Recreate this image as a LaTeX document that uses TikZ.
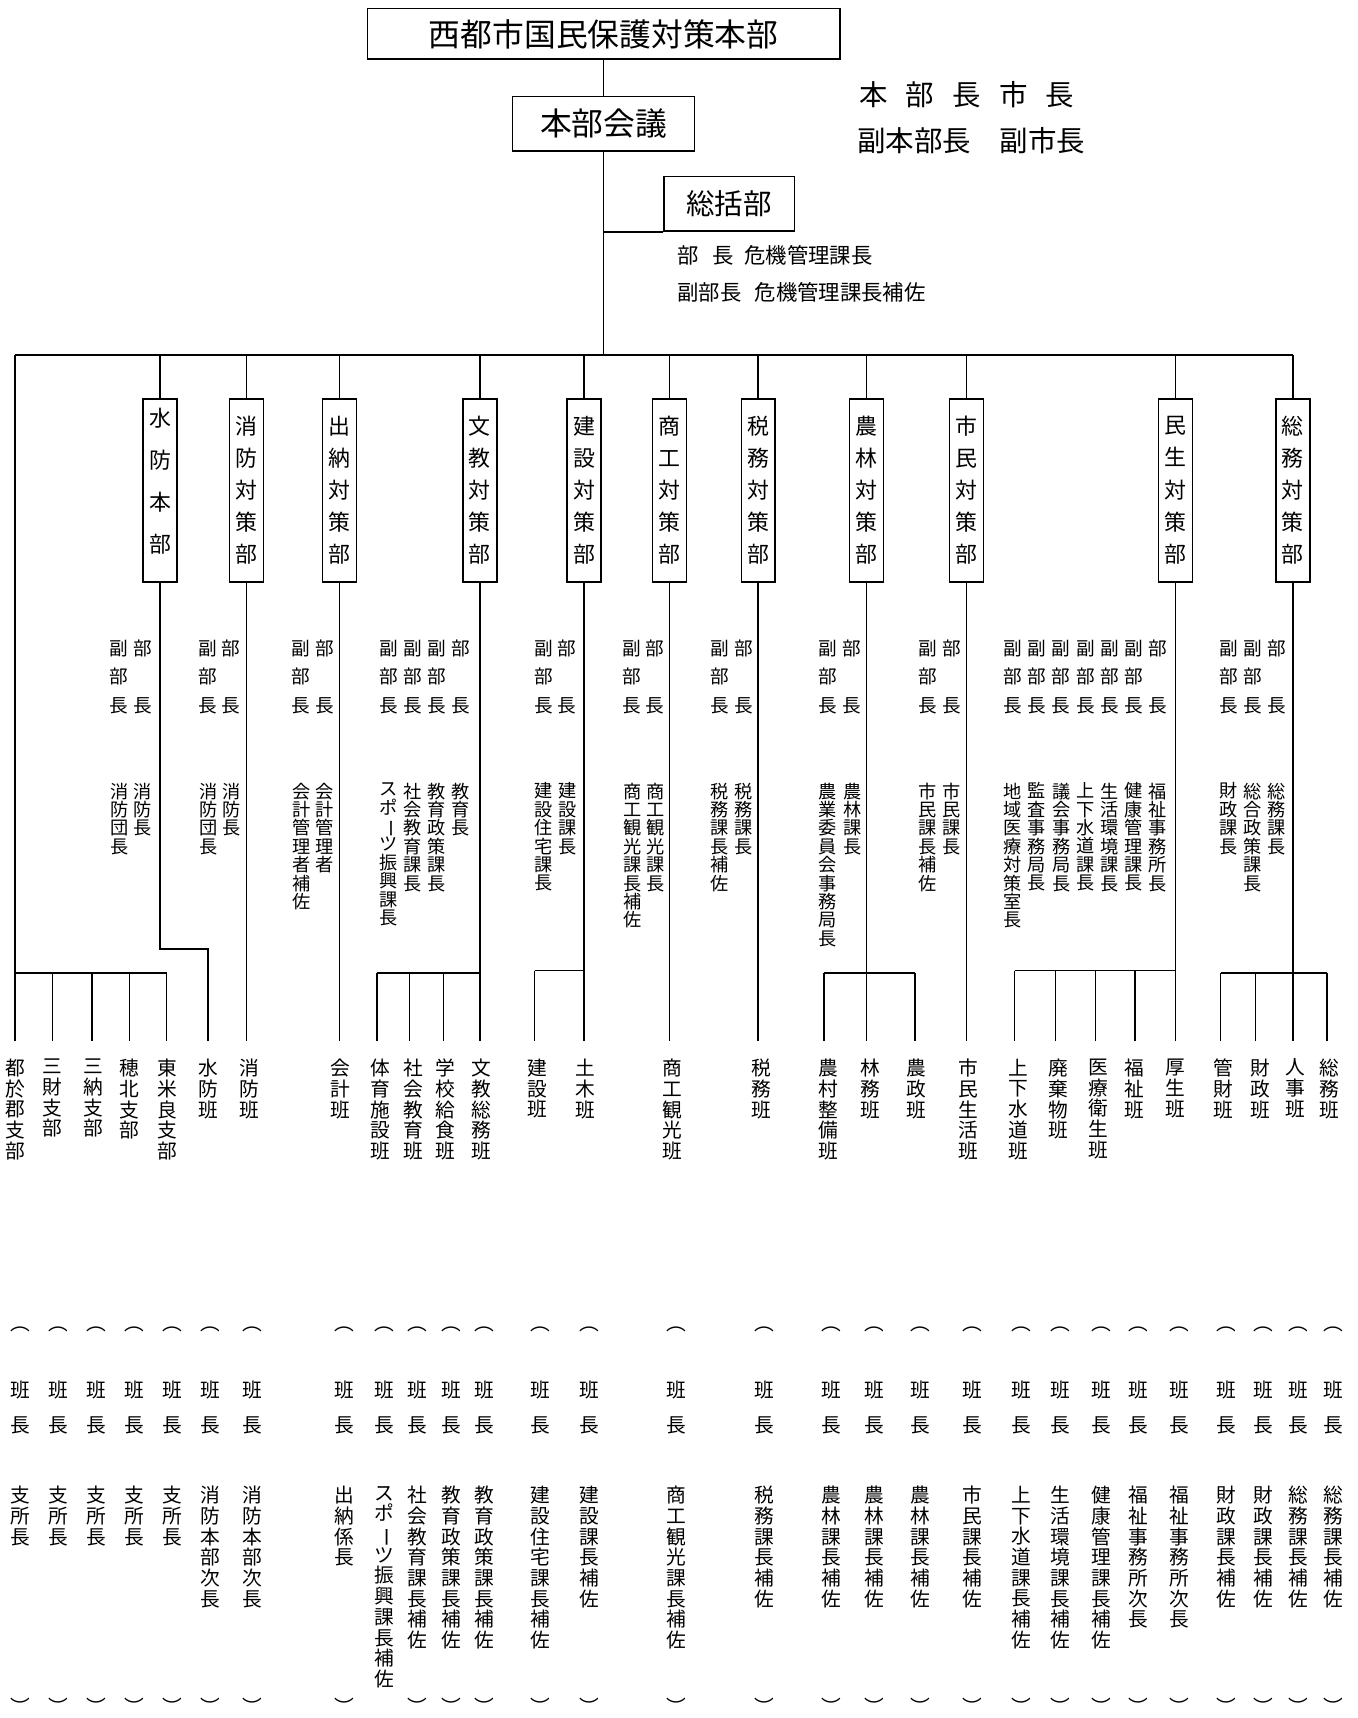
\documentclass[tikz,border=0pt]{standalone}
\usepackage{fontspec}
\usepackage{graphicx}
\setmainfont{Noto Sans CJK JP}
\makeatletter
\def\tate#1{\tate@a#1\@nil}
\def\tate@a#1#2\@nil{#1\ifx\relax#2\relax\expandafter\@gobble\else\expandafter\@firstofone\fi{\\\tate@a#2\@nil}}
\def\tatex#1{\expandafter\tate\expandafter{#1}}
\makeatother
\newcommand{\bou}{\rotatebox[origin=c]{-90}{ー}}
\begin{document}
\begin{tikzpicture}[x=0.5pt,y=-0.5pt,
 ln/.style={line width=0.65pt},
 hb/.style={draw,line width=0.65pt,inner sep=0pt},
 dbox/.style={draw,line width=0.65pt,inner sep=0pt,minimum width=15.5pt,minimum height=83.5pt,align=center,font={\fontsize{10pt}{14.65pt}\selectfont\lineskiplimit=-100pt}},
 fb/.style={anchor=north,inner sep=0pt,align=center,font={\fontsize{8.5pt}{12.9pt}\selectfont\lineskiplimit=-100pt}},
 ls/.style={anchor=north,inner sep=0pt,align=center,font={\fontsize{8.3pt}{8.4pt}\selectfont\lineskiplimit=-100pt}},
 hn/.style={anchor=north,inner sep=0pt,align=center,font={\fontsize{9pt}{9.5pt}\selectfont\lineskiplimit=-100pt}},
 nm/.style={anchor=north,inner sep=0pt,align=center,font={\fontsize{9pt}{9.45pt}\selectfont\lineskiplimit=-100pt}},
 hc/.style={anchor=north,inner sep=0pt,align=center,font={\fontsize{9pt}{16pt}\selectfont\lineskiplimit=-100pt}},
 kk/.style={inner sep=0pt,font={\fontsize{9pt}{9pt}\selectfont}}]
\useasboundingbox (0,0) rectangle (1239,1568);
% top
\node[hb,minimum width=215.5pt,minimum height=23pt,font=\fontsize{14.5pt}{14.5pt}\selectfont] (hq) at (551,31) {西都市国民保護対策本部};
\node[hb,minimum width=83pt,minimum height=25pt,font=\fontsize{14.5pt}{14.5pt}\selectfont] (kaigi) at (551,113) {本部会議};
\node[hb,minimum width=59.5pt,minimum height=25pt,font=\fontsize{13pt}{13pt}\selectfont] (sokatsu) at (665.5,186) {総括部};
\node[anchor=west,inner sep=0pt,font=\fontsize{13pt}{13pt}\selectfont] (chou1) at (784,86) {本\kern8.25pt 部\kern8.25pt 長\kern8.25pt 市\kern8.25pt 長};
\node[anchor=west,inner sep=0pt,font=\fontsize{13pt}{13pt}\selectfont] (chou2) at (782,128) {副本部長　副市長};
\node[anchor=west,inner sep=0pt,font=\fontsize{9.75pt}{9.75pt}\selectfont] (bu1) at (618,233) {部\kern6pt 長\kern5pt 危機管理課長};
\node[anchor=west,inner sep=0pt,font=\fontsize{9.75pt}{9.75pt}\selectfont] (bu2) at (618,267) {副部長\kern6pt 危機管理課長補佐};
\coordinate (busL) at (13.5,324);
\coordinate (busR) at (1180,324);
\draw[ln] (hq.south) -- (hq.south |- kaigi.north);
\draw[ln] (kaigi.south) -- (kaigi.south |- busL);
\draw[ln] (sokatsu.south west) -- (sokatsu.south west -| kaigi.south);
\draw[ln] (busL) -- (busR);
% departments
\node[dbox,font={\fontsize{10pt}{19.25pt}\selectfont\lineskiplimit=-100pt},text depth=9.2pt] (suibo) at (146,447.5) {\tate{水防本部}};
\draw[ln] (suibo.north) -- (suibo.north |- busL);
\foreach \n/\x/\tx in {shobo/225/消防対策部, suito/310/出納対策部, bunkyo/438/文教対策部, kensetsu/533/建設対策部, shoko/611/商工対策部, zeimu/692/税務対策部, norin/791/農林対策部, shimin/882/市民対策部, minsei/1073/民生対策部, somu/1180/総務対策部}{
  \node[dbox] (\n) at (\x,447.5) {\tatex{\tx}};
  \draw[ln] (\n.north) -- (\n.north |- busL);
}
% middle texts
\foreach \x/\tx [count=\cnt] in {130/消防長, 211/消防長, 296/会計管理者, 420.7/教育長, 517.7/建設課長, 598/商工観光課長, 679/税務課長, 777.8/農林課長, 868.5/市民課長, 1056.5/福祉事務所長, 1165.4/総務課長}{
  \node[fb] (bc\cnt) at (\x,584) {部\\\mbox{}\\長};
  \node[ls] (bl\cnt) at (\x,714) {\tatex{\tx}};
}
\foreach \x/\tx [count=\cnt] in {108.7/消防団長, 190/消防団長, 275/会計管理者補佐, 398.7/教育政策課長, 377/社会教育課長, 354.7/スポ\bou ツ振興課長, 496/建設住宅課長, 577/商工観光課長補佐, 657.2/税務課長補佐, 755.7/農業委員会事務局長, 846.4/市民課長補佐, 1034.9/健康管理課長, 1012.8/生活環境課長, 990.7/上下水道課長, 968.6/議会事務局長, 946.5/監査事務局長, 924.5/地域医療対策室長, 1143.3/総合政策課長, 1121.6/財政課長}{
  \node[fb] (fc\cnt) at (\x,584) {副\\部\\長};
  \node[ls] (fl\cnt) at (\x,714) {\tatex{\tx}};
}
% lower connectors
\coordinate (sL) at (13.5,950);
\draw[ln] (busL) -- (sL);
\draw[ln] (13.5,888) -- (152,888);
\foreach \x in {48,84,118,152}{\draw[ln] (\x,888) -- (\x,950);}
\draw[ln] (suibo.south) -- (146,866) -- (190,866) -- (190,950);
\draw[ln] (shobo.south) -- (225,950);
\draw[ln] (suito.south) -- (310,950);
\draw[ln] (bunkyo.south) -- (438,950);
\draw[ln] (344,888) -- (438,888);
\foreach \x in {344,374,405}{\draw[ln] (\x,888) -- (\x,950);}
\draw[ln] (kensetsu.south) -- (533,950);
\draw[ln] (488,886) -- (533,886) (488,886) -- (488,950);
\draw[ln] (shoko.south) -- (611,950);
\draw[ln] (zeimu.south) -- (692,950);
\draw[ln] (norin.south) -- (791,950);
\draw[ln] (752,888) -- (835,888);
\foreach \x in {752,835}{\draw[ln] (\x,888) -- (\x,950);}
\draw[ln] (shimin.south) -- (882,950);
\draw[ln] (minsei.south) -- (1073,950);
\draw[ln] (926,886) -- (1073,886);
\foreach \x in {926,963.5,1000,1036}{\draw[ln] (\x,886) -- (\x,950);}
\draw[ln] (somu.south) -- (1180,950);
\draw[ln] (1114,888) -- (1211,888);
\foreach \x in {1114,1146,1211}{\draw[ln] (\x,888) -- (\x,950);}
% han labels
\foreach \x/\tx [count=\cnt] in {14.3/都於郡支部, 48/三財支部, 85/三納支部, 118/穂北支部, 153/東米良支部, 190/水防班, 228/消防班, 310.6/会計班, 347/体育施設班, 377/社会教育班, 406.4/学校給食班, 439/文教総務班, 490/建設班, 534/土木班, 613.5/商工観光班, 695/税務班, 756/農村整備班, 794.4/林務班, 836.6/農政班, 884.2/市民生活班, 929.5/上下水道班, 966/廃棄物班, 1002/医療衛生班, 1035.6/福祉班, 1072.3/厚生班, 1116.4/管財班, 1150.5/財政班, 1182/人事班, 1213.5/総務班}{
  \node[hn] (h\cnt) at (\x,966) {\tatex{\tx}};
}
% bottom
\foreach \x/\tx/\b [count=\cnt] in {18.3/支所長/1, 53/支所長/1, 87.6/支所長/1, 122.3/支所長/1, 157/支所長/1, 191.6/消防本部次長/1, 230.3/消防本部次長/1, 314/出納係長/1, 350.6/スポ\bou ツ振興課長補佐/0, 381.2/社会教育課長補佐/1, 411.7/教育政策課長補佐/1, 442.3/教育政策課長補佐/1, 493.3/建設住宅課長補佐/1, 538.1/建設課長補佐/1, 617.6/商工観光課長補佐/1, 697.8/税務課長補佐/1, 758.9/農林課長補佐/1, 798.3/農林課長補佐/1, 839.7/農林課長補佐/1, 887.1/市民課長補佐/1, 932.4/上下水道課長補佐/1, 967.9/生活環境課長補佐/1, 1005.3/健康管理課長補佐/1, 1038.8/福祉事務所次長/1, 1076.2/福祉事務所次長/1, 1119.6/財政課長補佐/1, 1153.2/財政課長補佐/1, 1185.4/総務課長補佐/1, 1217/総務課長補佐/1}{
  \node[kk] (ka\cnt) at (\x,1213) {︵};
  \node[hc] (hc\cnt) at (\x,1259.5) {班\\長};
  \node[nm] (nm\cnt) at (\x,1356) {\tatex{\tx}};
  \ifnum\b=1 \node[kk] (kb\cnt) at (\x,1557) {︶};\fi
}
\end{tikzpicture}
\end{document}
